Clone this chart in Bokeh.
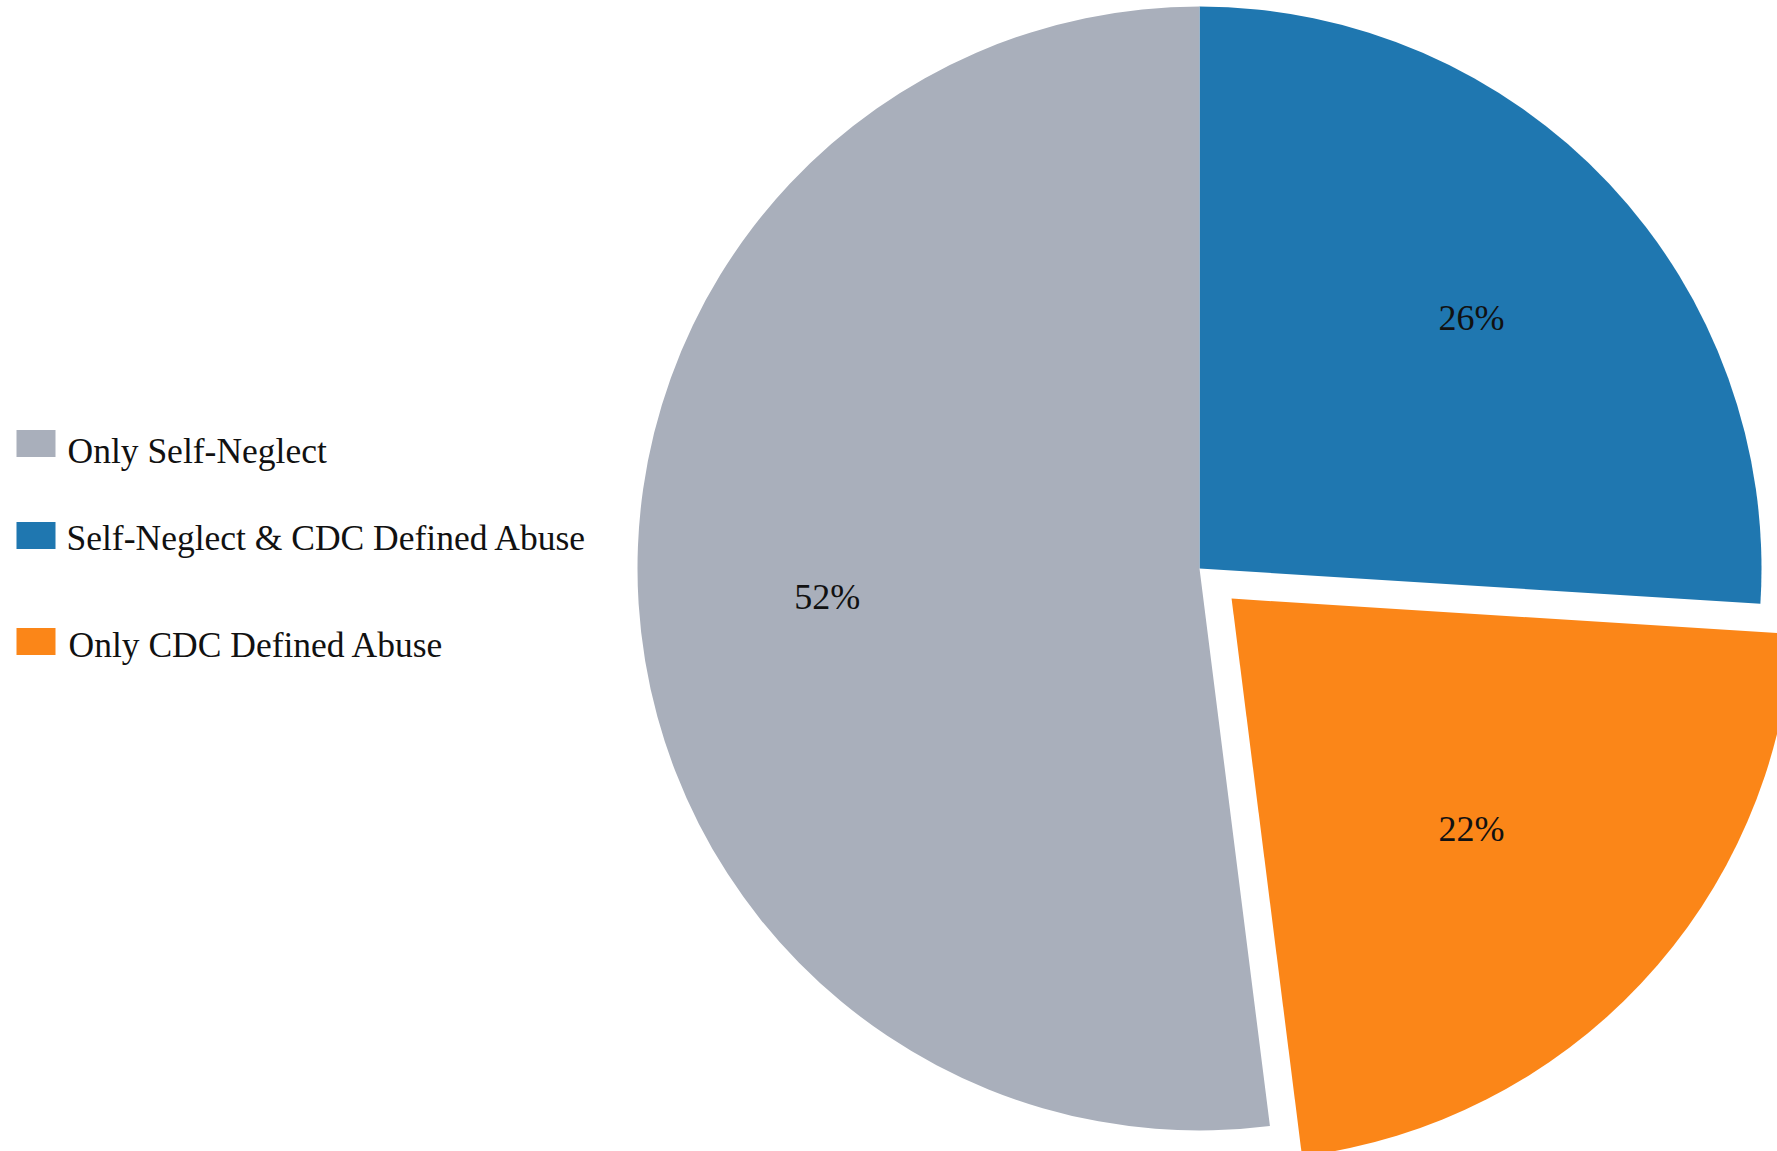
import math
from bokeh.plotting import figure
from bokeh.models import Range1d, ColumnDataSource
from bokeh.core.properties import value
from bokeh.embed import file_html
from bokeh.resources import INLINE

# ---- data ----
categories = ["Self-Neglect & CDC Defined Abuse", "Only CDC Defined Abuse", "Only Self-Neglect"]
shares = [26, 22, 52]
pct_labels = ["26%", "22%", "52%"]
legend_order = ["Only Self-Neglect", "Self-Neglect & CDC Defined Abuse", "Only CDC Defined Abuse"]

# ---- styles / layout ----
colors = {"Only Self-Neglect": "#a9afbb",
          "Self-Neglect & CDC Defined Abuse": "#1f77b0",
          "Only CDC Defined Abuse": "#fb8618"}
explode = {"Only CDC Defined Abuse": 44}
W, H = 1777, 1151
cx, cy = 1199, H - 568
R = 562
label_r = 373
label_dy = -5
FONT = "Liberation Serif"

p = figure(width=W, height=H, output_backend="svg", toolbar_location=None,
           x_range=Range1d(0, W), y_range=Range1d(0, H), min_border=0)
p.axis.visible = False
p.grid.visible = False
p.outline_line_color = None
p.background_fill_color = "white"
p.border_fill_color = "white"

total = float(sum(shares))
cum = 0.0
xs, ys, starts, ends, cols = [], [], [], [], []
lx, ly = [], []
for cat, s, lab in zip(categories, shares, pct_labels):
    a_end = math.radians(90 - cum / total * 360)
    cum += s
    a_start = math.radians(90 - cum / total * 360)
    mid = (a_start + a_end) / 2
    off = explode.get(cat, 0)
    xs.append(cx + off * math.cos(mid))
    ys.append(cy + off * math.sin(mid))
    starts.append(a_start)
    ends.append(a_end)
    cols.append(colors[cat])
    lx.append(cx + label_r * math.cos(mid))
    ly.append(cy + label_r * math.sin(mid) + label_dy)

src = ColumnDataSource(dict(x=xs, y=ys, start=starts, end=ends, color=cols))
p.wedge(x="x", y="y", radius=R, start_angle="start", end_angle="end",
        fill_color="color", line_color=None, source=src)

p.text(x=lx, y=ly, text=pct_labels, text_font=value(FONT), text_font_size="36px",
       text_align="center", text_baseline="middle", text_color="#111111")

# legend drawn manually
sq_screen_y = [443, 535, 641]
txt_screen_y = [450, 537, 644]
p.rect(x=[35.5] * 3, y=[H - v for v in sq_screen_y], width=39, height=27,
       fill_color=[colors[c] for c in legend_order], line_color=None)
p.text(x=[67, 66, 68], y=[H - v for v in txt_screen_y], text=legend_order, text_font=value(FONT),
       text_font_size="35.5px", text_align="left", text_baseline="middle", text_color="#111111")

open("out.html", "w").write(file_html(p, INLINE))
